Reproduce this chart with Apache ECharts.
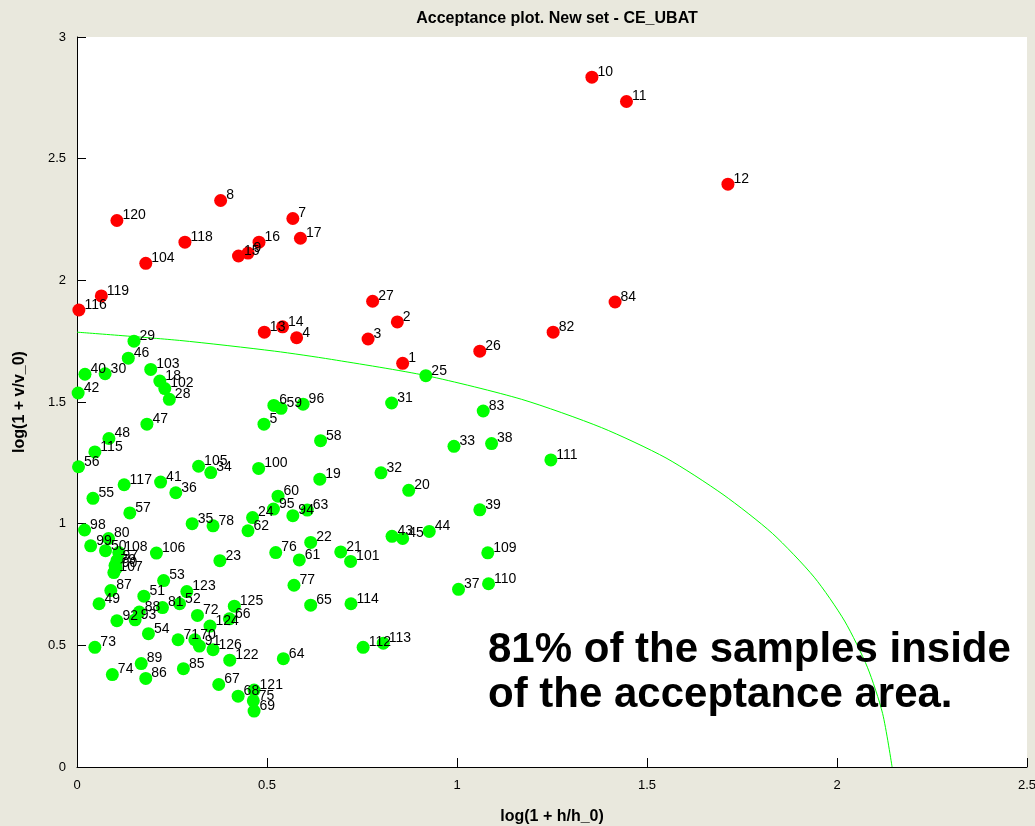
<!DOCTYPE html>
<html>
<head>
<meta charset="utf-8">
<script src="https://cdn.jsdelivr.net/npm/echarts@6/dist/echarts.min.js"></script>
<style>
  html, body { margin: 0; padding: 0; background: #e9e8dd; }
  #chart { width: 1035px; height: 826px; }
</style>
</head>
<body>
<div id="chart"></div>
<script>
// Samples outside the acceptance area (red)
const outsideIds = [1, 2, 3, 4, 7, 8, 9, 10, 11, 12, 13, 14, 15, 16, 17, 26, 27, 82, 84, 104, 116, 118, 119, 120];
const outsideX = [0.857, 0.843, 0.766, 0.578, 0.568, 0.378, 0.450, 1.355, 1.446, 1.713, 0.493, 0.541, 0.425, 0.479, 0.588, 1.060, 0.778, 1.253, 1.416, 0.181, 0.005, 0.284, 0.064, 0.105];
const outsideY = [1.659, 1.829, 1.759, 1.764, 2.254, 2.328, 2.112, 2.835, 2.735, 2.395, 1.787, 1.809, 2.100, 2.157, 2.173, 1.709, 1.914, 1.787, 1.911, 2.070, 1.878, 2.157, 1.936, 2.246];

// Samples inside the acceptance area (green)
const insideIds = [5, 6, 18, 19, 20, 21, 22, 23, 24, 25, 28, 29, 30, 31, 32, 33, 34, 35, 36, 37,
  38, 39, 40, 41, 42, 43, 44, 45, 46, 47, 48, 49, 50, 51, 52, 53, 54, 55, 56, 57,
  58, 59, 60, 61, 62, 63, 64, 65, 66, 67, 68, 69, 70, 71, 72, 73, 74, 75, 76, 77,
  78, 79, 80, 81, 83, 85, 86, 87, 88, 89, 90, 91, 92, 93, 94, 95, 96, 97, 98, 99,
  100, 101, 102, 103, 105, 106, 107, 108, 109, 110, 111, 112, 113, 114, 115, 117, 121, 122, 123, 124,
  125, 126];
const insideX = [0.492, 0.518, 0.218, 0.639, 0.873, 0.694, 0.615, 0.376, 0.462, 0.918, 0.243, 0.150, 0.074, 0.828, 0.800, 0.992, 0.352, 0.303, 0.260, 1.004,
  1.091, 1.060, 0.021, 0.220, 0.003, 0.829, 0.927, 0.857, 0.135, 0.184, 0.084, 0.058, 0.075, 0.176, 0.270, 0.228, 0.188, 0.042, 0.004, 0.139,
  0.641, 0.537, 0.529, 0.585, 0.450, 0.606, 0.543, 0.615, 0.401, 0.373, 0.424, 0.466, 0.310, 0.266, 0.317, 0.047, 0.093, 0.464, 0.523, 0.571,
  0.358, 0.100, 0.083, 0.225, 1.069, 0.280, 0.181, 0.089, 0.164, 0.169, 0.103, 0.322, 0.105, 0.153, 0.568, 0.517, 0.595, 0.105, 0.020, 0.036,
  0.478, 0.720, 0.231, 0.194, 0.320, 0.209, 0.097, 0.110, 1.081, 1.083, 1.247, 0.753, 0.806, 0.721, 0.047, 0.124, 0.466, 0.402, 0.289, 0.350,
  0.414, 0.358];
const insideY = [1.409, 1.486, 1.586, 1.183, 1.137, 0.884, 0.923, 0.848, 1.025, 1.608, 1.511, 1.750, 1.616, 1.496, 1.209, 1.318, 1.210, 1.000, 1.127, 0.730,
  1.329, 1.057, 1.614, 1.171, 1.537, 0.948, 0.968, 0.939, 1.680, 1.409, 1.350, 0.671, 0.889, 0.702, 0.671, 0.766, 0.548, 1.104, 1.234, 1.044,
  1.341, 1.474, 1.113, 0.851, 0.971, 1.056, 0.445, 0.665, 0.609, 0.339, 0.291, 0.230, 0.523, 0.523, 0.623, 0.492, 0.380, 0.272, 0.881, 0.747,
  0.991, 0.828, 0.939, 0.655, 1.463, 0.404, 0.364, 0.725, 0.637, 0.425, 0.816, 0.497, 0.601, 0.605, 1.033, 1.060, 1.491, 0.848, 0.974, 0.909,
  1.227, 0.845, 1.555, 1.634, 1.236, 0.879, 0.799, 0.881, 0.880, 0.753, 1.262, 0.492, 0.509, 0.671, 1.295, 1.160, 0.316, 0.439, 0.721, 0.579,
  0.661, 0.482];

// Acceptance boundary
const boundaryX = [0.00, 0.27, 0.52, 0.67, 0.92, 1.17, 1.38, 1.55, 1.70, 1.83, 1.94, 2.02, 2.08, 2.12, 2.145];
const boundaryY = [1.787, 1.753, 1.709, 1.675, 1.608, 1.511, 1.395, 1.27, 1.12, 0.96, 0.78, 0.60, 0.41, 0.22, 0.00];

const FONT = '"Liberation Sans", Arial, sans-serif';

function points(ids, xs, ys) {
  return ids.map((id, i) => [xs[i], ys[i], id]);
}

const pointLabel = {
  show: true,
  position: 'right',
  distance: 0,
  offset: [-1, -5],
  color: '#000',
  fontSize: 14,
  fontFamily: FONT,
  formatter: p => String(p.value[2])
};

const nameStyle = { fontFamily: FONT, fontWeight: 'bold', fontSize: 16, color: '#000' };

const chart = echarts.init(document.getElementById('chart'), null, { renderer: 'canvas' });

chart.setOption({
  backgroundColor: '#e9e8dd',
  animation: false,
  title: {
    text: 'Acceptance plot. New set - CE_UBAT',
    left: 552,
    textAlign: 'center',
    top: 6,
    textStyle: nameStyle
  },
  grid: {
    left: 77, right: 8, top: 37, bottom: 59,
    outerBoundsMode: 'none',
    containLabel: false,
    show: true, backgroundColor: '#ffffff', borderWidth: 0
  },
  xAxis: {
    type: 'value', min: 0, max: 2.5, interval: 0.5,
    name: 'log(1 + h/h_0)', nameLocation: 'middle', nameGap: 42,
    nameTextStyle: nameStyle,
    axisLine: { show: true, onZero: false, lineStyle: { color: '#000', width: 1 } },
    axisTick: { show: true, inside: true, length: 9, lineStyle: { color: '#000' } },
    axisLabel: { color: '#000', fontFamily: FONT, fontSize: 13, margin: 12 },
    splitLine: { show: false }
  },
  yAxis: {
    type: 'value', min: 0, max: 3, interval: 0.5,
    name: 'log(1 + v/v_0)', nameLocation: 'middle', nameGap: 49,
    nameTextStyle: nameStyle,
    axisLine: { show: true, onZero: false, lineStyle: { color: '#000', width: 1 } },
    axisTick: { show: true, inside: true, length: 9, lineStyle: { color: '#000' } },
    axisLabel: { color: '#000', fontFamily: FONT, fontSize: 13, margin: 11 },
    splitLine: { show: false }
  },
  graphic: [{
    type: 'text',
    left: 488,
    top: 628,
    z: 100,
    style: {
      text: '81% of the samples inside\nof the acceptance area.',
      fontFamily: FONT,
      fontWeight: 'bold',
      fontSize: 42,
      lineHeight: 45,
      fill: '#000'
    }
  }],
  series: [
    {
      name: 'boundary',
      type: 'line',
      data: boundaryX.map((x, i) => [x, boundaryY[i]]),
      showSymbol: false,
      smooth: 0.25,
      lineStyle: { color: '#00ff00', width: 1 },
      z: 1,
      silent: true
    },
    {
      name: 'inside',
      type: 'scatter',
      data: points(insideIds, insideX, insideY),
      symbol: 'circle',
      symbolSize: 13,
      itemStyle: { color: '#00ff00', opacity: 1 },
      label: pointLabel,
      z: 3
    },
    {
      name: 'outside',
      type: 'scatter',
      data: points(outsideIds, outsideX, outsideY),
      symbol: 'circle',
      symbolSize: 13,
      itemStyle: { color: '#ff0000', opacity: 1 },
      label: pointLabel,
      z: 3
    }
  ]
});
</script>
</body>
</html>
